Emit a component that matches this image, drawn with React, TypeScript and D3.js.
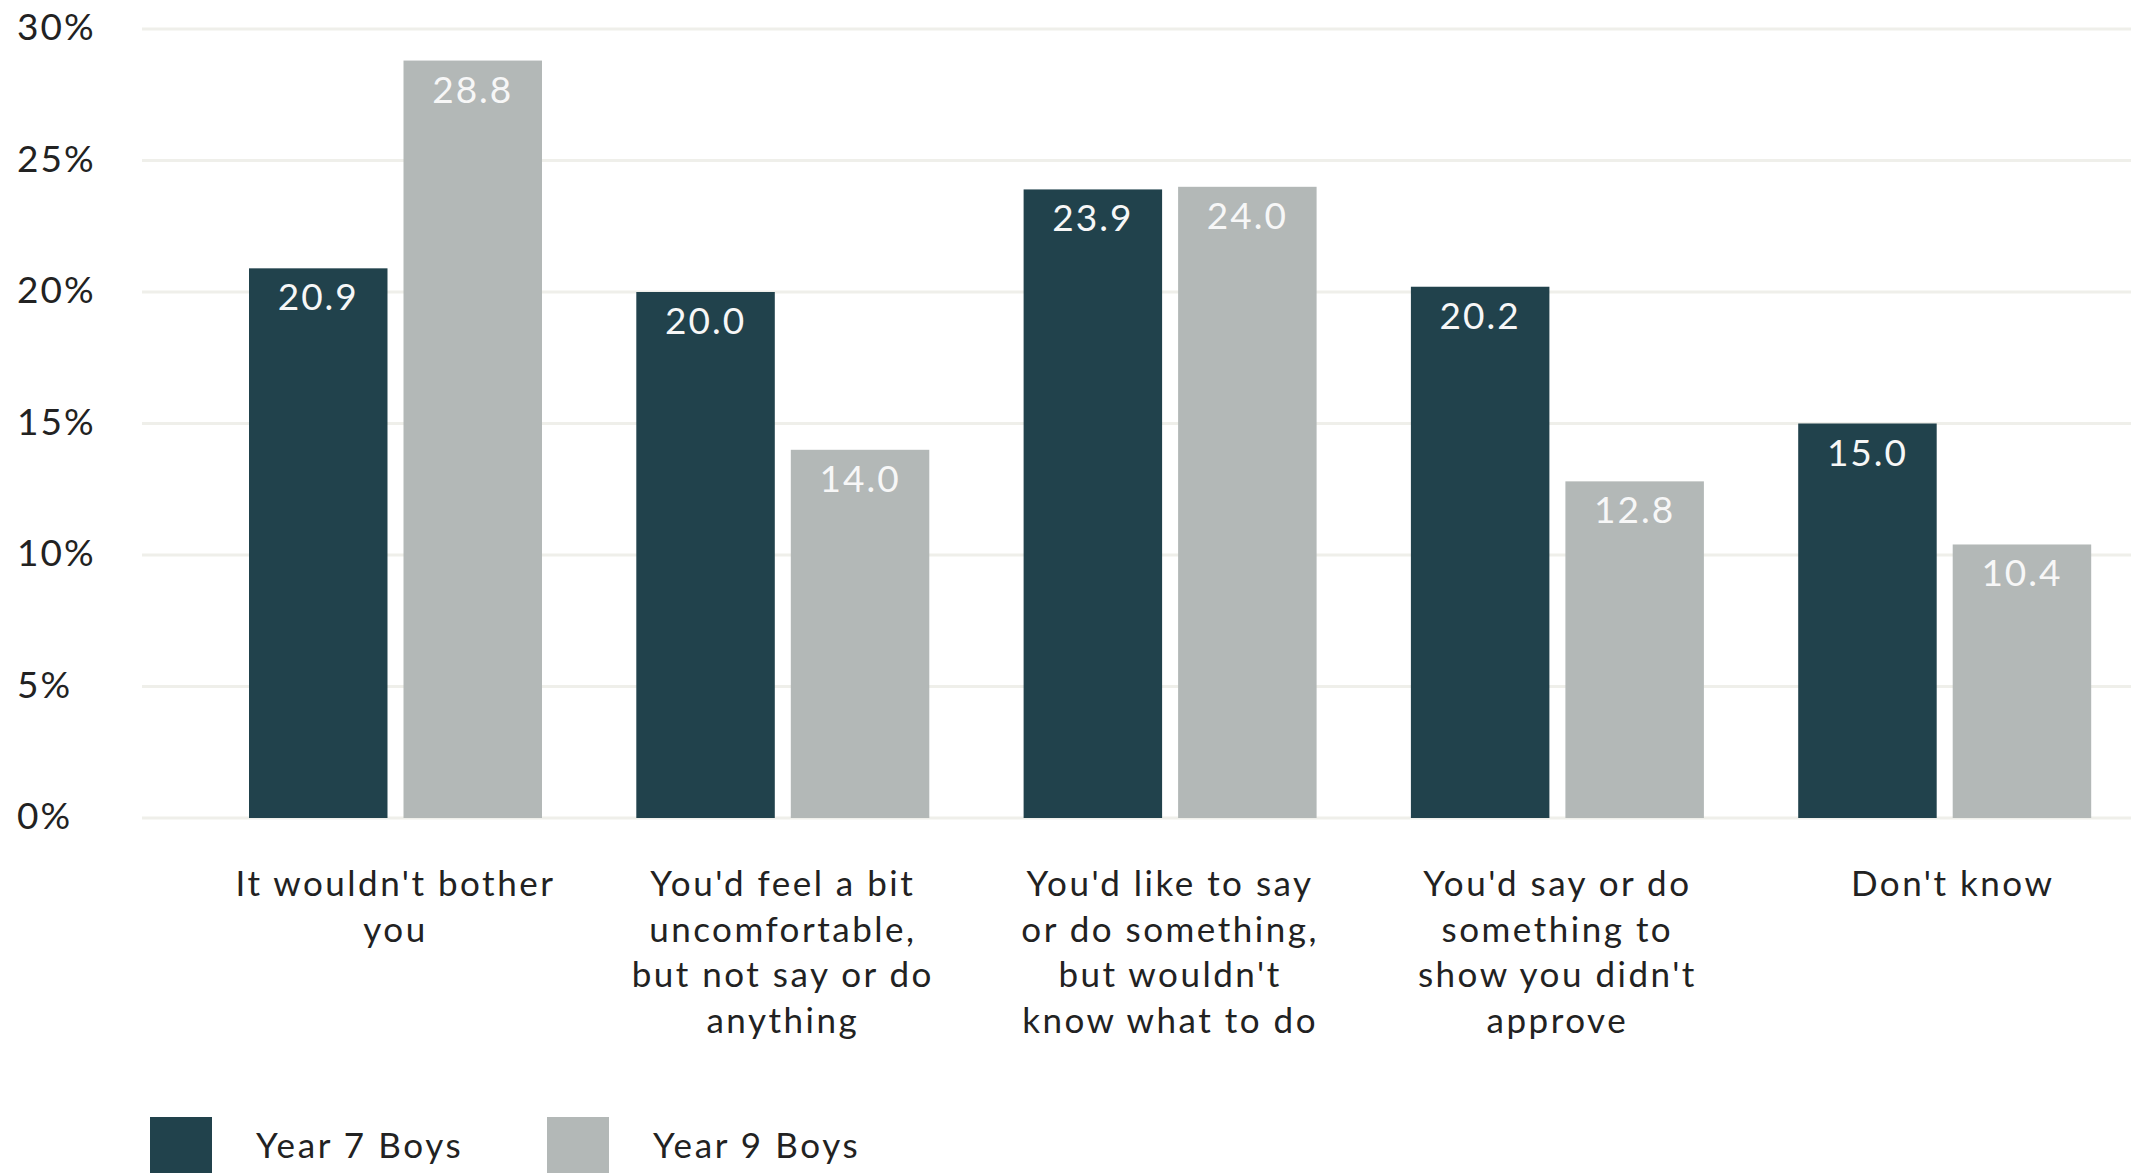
import React from "react";
import * as d3 from "d3";

const categories: string[][] = [
  ["It wouldn't bother", "you"],
  ["You'd feel a bit", "uncomfortable,", "but not say or do", "anything"],
  ["You'd like to say", "or do something,", "but wouldn't", "know what to do"],
  ["You'd say or do", "something to", "show you didn't", "approve"],
  ["Don't know"],
];
const year7Boys = [20.9, 20.0, 23.9, 20.2, 15.0];
const year9Boys = [28.8, 14.0, 24.0, 12.8, 10.4];
const seriesNames = ["Year 7 Boys", "Year 9 Boys"];
const yTicks = [0, 5, 10, 15, 20, 25, 30];

const W = 2131;
const H = 1173;
const DARK = "#21424c";
const GREY = "#b3b8b7";
const FONT = "Lato, 'Noto Sans', sans-serif";

export default function App() {
  const y = d3.scaleLinear().domain([0, 30]).range([818, 29]);
  const x0 = d3
    .scaleBand<number>()
    .domain(categories.map((_, i) => i))
    .range([201.85, 2138.35])
    .paddingInner(0.2435)
    .paddingOuter(0.12175);
  const x1 = d3
    .scaleBand<string>()
    .domain(seriesNames)
    .range([0, x0.bandwidth()])
    .paddingInner(0.1036)
    .paddingOuter(0);
  const colors: Record<string, string> = { "Year 7 Boys": DARK, "Year 9 Boys": GREY };
  const values: Record<string, number[]> = { "Year 7 Boys": year7Boys, "Year 9 Boys": year9Boys };

  return (
    <svg
      width={W}
      height={H}
      style={{ position: "absolute", left: 0, top: 0, background: "#fff" }}
      fontFamily={FONT}
    >
      {yTicks.map((t) => (
        <line key={"g" + t} x1={142} x2={W} y1={y(t)} y2={y(t)} stroke="#efefea" strokeWidth={3} />
      ))}
      {yTicks.map((t) => (
        <text key={"yl" + t} x={17} y={y(t) + 11} fontSize={37} fill="#222" letterSpacing={2}>
          {t + "%"}
        </text>
      ))}
      {categories.map((_, i) => (
        <g key={"grp" + i} transform={`translate(${x0(i)},0)`}>
          {seriesNames.map((s) => {
            const v = values[s][i];
            const bx = x1(s)!;
            return (
              <g key={s}>
                <rect x={bx} y={y(v)} width={x1.bandwidth()} height={y(0) - y(v)} fill={colors[s]} />
                <text
                  x={bx + x1.bandwidth() / 2}
                  y={y(v) + 42}
                  textAnchor="middle"
                  fontSize={37}
                  fill="#f7f7f7"
                  letterSpacing={2}
                >
                  {v.toFixed(1)}
                </text>
              </g>
            );
          })}
        </g>
      ))}
      {categories.map((lines, i) => {
        const cx = x0(i)! + x0.bandwidth() / 2 + (i === categories.length - 1 ? 8 : 0);
        return (
          <text key={"c" + i} x={cx} y={896} textAnchor="middle" fontSize={35} fill="#222" letterSpacing={2.5}>
            {lines.map((ln, j) => (
              <tspan key={j} x={cx} dy={j === 0 ? 0 : 45.6}>
                {ln}
              </tspan>
            ))}
          </text>
        );
      })}
      {seriesNames.map((s, i) => {
        const lx = i === 0 ? 150 : 547;
        return (
          <g key={"lg" + s}>
            <rect x={lx} y={1117} width={62} height={62} fill={colors[s]} />
            <text x={lx + 106} y={1158} fontSize={35} fill="#222" letterSpacing={2.6}>
              {s}
            </text>
          </g>
        );
      })}
    </svg>
  );
}
